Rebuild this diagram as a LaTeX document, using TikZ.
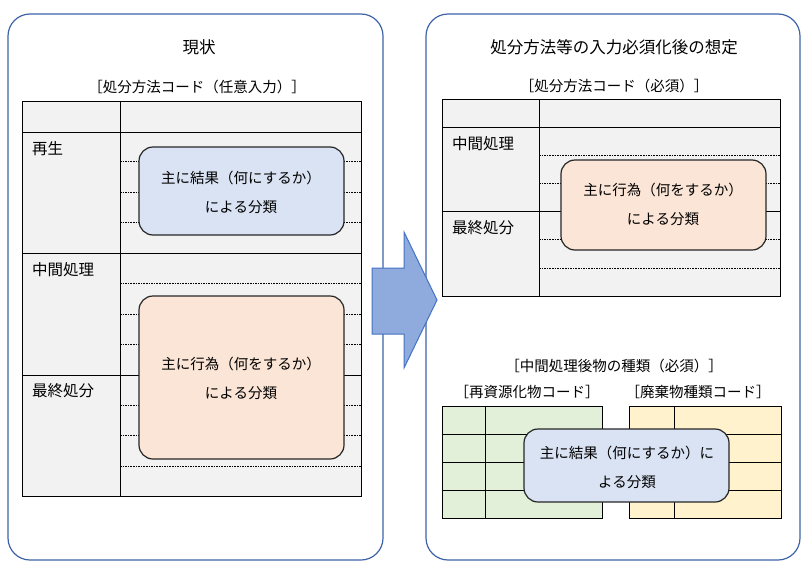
\documentclass[tikz,border=0pt]{standalone}
\usepackage{fontspec}
\setmainfont{Noto Sans CJK JP}
\begin{document}
\begin{tikzpicture}[x=1pt,y=-1pt,
  panel/.style={draw=panelblue,line width=1.2pt,rounded corners=22pt},
  tab/.style={draw=black,line width=0.8pt},
  dot/.style={draw=black,dash pattern=on 1.6pt off 1pt,line width=0.9pt},
  box/.style={draw=black!85,line width=1.2pt,rounded corners=14pt},
  txt/.style={font=\fontsize{14.5}{29}\selectfont,align=center,inner sep=0pt},
  ttl/.style={font=\fontsize{16.5}{20}\selectfont,inner sep=0pt},
  lbl/.style={font=\fontsize{15.5}{18}\selectfont,anchor=west,inner sep=0pt}]
\definecolor{panelblue}{HTML}{3E63A8}
\definecolor{cellgray}{HTML}{F2F2F2}
\definecolor{bluebox}{HTML}{DAE3F3}
\definecolor{orangebox}{HTML}{FBE5D6}
\definecolor{greenc}{HTML}{E2F0D9}
\definecolor{yellowc}{HTML}{FFF2CC}
\definecolor{arrowfill}{HTML}{8FAADC}
\definecolor{arrowline}{HTML}{4472C4}
\useasboundingbox (0,0) rectangle (808,570);
\fill[white] (0,0) rectangle (808,570);
% panels
\draw[panel] (8,14) rectangle (383,560);
\draw[panel] (426,14) rectangle (800,560);
\node[ttl] (t1) at (199,47) {現状};
\node[ttl] (t2) at (614,47) {処分方法等の入力必須化後の想定};
% left table
\node[txt] (l1) at (197,87) {［処分方法コード（任意入力）］};
\fill[cellgray] (22,101) rectangle (361,496);
\foreach \y in {161,192,222,283,314,344,405,435,466} \draw[dot] (120,\y) -- (361,\y);
\draw[tab] (22,101) rectangle (361,496);
\draw[tab] (120,101) -- (120,496);
\foreach \y in {132,253,375} \draw[tab] (22,\y) -- (361,\y);
\node[lbl] (r1) at (32,149) {再生};
\node[lbl] (r2) at (32,270) {中間処理};
\node[lbl] (r3) at (32,391) {最終処分};
\draw[box,fill=bluebox] (139,147) rectangle (344,235);
\node[txt] (b1) at (241,192) {主に結果（何にするか）\\による分類};
\draw[box,fill=orangebox] (139,296) rectangle (344,459);
\node[txt] (b2) at (241,378) {主に行為（何をするか）\\による分類};
% arrow
\draw[draw=arrowline,fill=arrowfill,line width=1pt] (372,268) -- (404,268) -- (404,232) -- (437,300) -- (404,368) -- (404,334) -- (372,334) -- cycle;
% right top table
\node[txt] (l2) at (614,86) {［処分方法コード（必須）］};
\fill[cellgray] (442,99) rectangle (780,296);
\foreach \y in {155,183,239,268} \draw[dot] (539,\y) -- (780,\y);
\draw[tab] (442,99) rectangle (780,296);
\draw[tab] (539,99) -- (539,296);
\foreach \y in {127,211} \draw[tab] (442,\y) -- (780,\y);
\node[lbl] (s1) at (452,144) {中間処理};
\node[lbl] (s2) at (452,228) {最終処分};
\draw[box,fill=orangebox] (561,160) rectangle (766,250);
\node[txt] (b3) at (663,204) {主に行為（何をするか）\\による分類};
% bottom
\node[txt] (l3) at (614,366) {［中間処理後物の種類（必須）］};
\node[txt] (l4) at (527,392) {［再資源化物コード］};
\node[txt] (l5) at (698,392) {［廃棄物種類コード］};
\fill[greenc] (442,406) rectangle (602,518);
\draw[tab] (442,406) rectangle (602,518);
\draw[tab] (485,406) -- (485,518);
\foreach \y in {434,462,490} \draw[tab] (442,\y) -- (602,\y);
\fill[yellowc] (629,406) rectangle (781,518);
\draw[tab] (629,406) rectangle (781,518);
\draw[tab] (674,406) -- (674,518);
\foreach \y in {434,462,490} \draw[tab] (629,\y) -- (781,\y);
\draw[box,fill=bluebox] (524,429) rectangle (729,502);
\node[txt] (b4) at (627,467) {主に結果（何にするか）に\\よる分類};
\end{tikzpicture}
\end{document}
